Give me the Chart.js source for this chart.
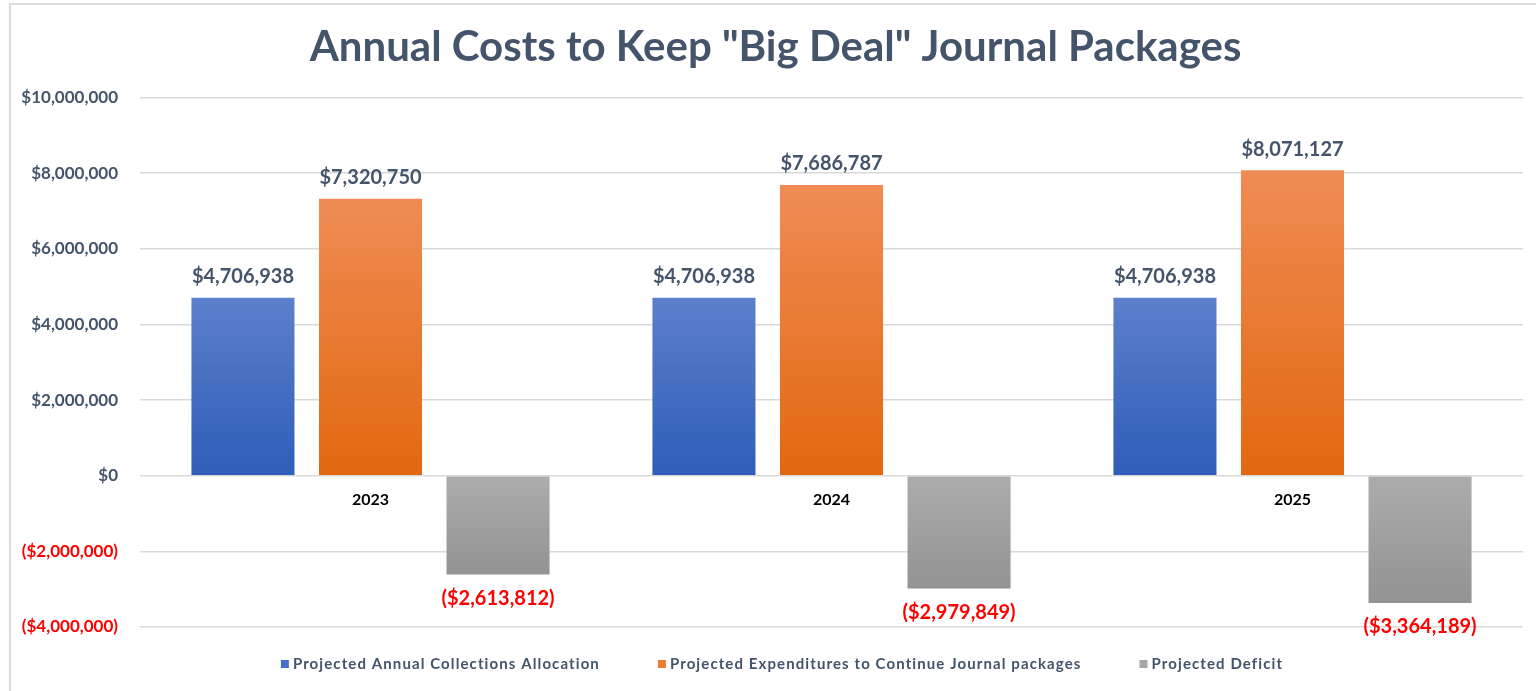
<!DOCTYPE html>
<html>
<head>
<meta charset="utf-8">
<script src="https://cdn.jsdelivr.net/npm/chart.js@4.4.1/dist/chart.umd.min.js"></script>
<style>
  html, body { margin: 0; padding: 0; background: #fff; overflow: hidden; }
  #wrap { position: relative; width: 1536px; height: 691px; }
  #frame { position: absolute; left: 9px; top: 3px; width: 1560px; height: 720px;
           border-left: 2px solid #dcdcdc; border-top: 2px solid #dcdcdc; pointer-events: none; }
  canvas { position: absolute; left: 0; top: 0; }
</style>
</head>
<body>
<div id="wrap">
  <canvas id="chart" width="1536" height="691"></canvas>
  <div id="frame"></div>
</div>
<script>
// data
const years = ["2023", "2024", "2025"];
const allocation = [4706938, 4706938, 4706938];
const expenditures = [7320750, 7686787, 8071127];
const deficit = [-2613812, -2979849, -3364189];
const seriesNames = [
  "Projected Annual Collections Allocation",
  "Projected Expenditures to Continue Journal packages",
  "Projected Deficit"
];
const yTicks = [-4000000, -2000000, 0, 2000000, 4000000, 6000000, 8000000, 10000000];

const SLATE = "#44546A";
const RED = "#FF0000";
const FONT = "Lato";

// top / bottom colours of each bar gradient
const shades = [
  ["#5C80CB", "#2F5DB9"],
  ["#EF8C55", "#E2680F"],
  ["#ACACAC", "#939393"]
];
const legendColors = ["#4472C4", "#ED7D31", "#A5A5A5"];

function money(v) {
  const s = "$" + Math.abs(v).toLocaleString("en-US");
  return v < 0 ? "(" + s + ")" : s;
}

function barFill(i) {
  return (ctx) => {
    const chart = ctx.chart;
    if (!chart.chartArea || ctx.type !== "data") return legendColors[i];
    const y = chart.scales.y;
    const v = ctx.raw;
    const top = y.getPixelForValue(Math.max(v, 0));
    const bot = y.getPixelForValue(Math.min(v, 0));
    if (bot - top < 1) return shades[i][0];
    const g = chart.ctx.createLinearGradient(0, top, 0, bot);
    g.addColorStop(0, shades[i][0]);
    g.addColorStop(1, shades[i][1]);
    return g;
  };
}

// title sits centred on the framed box, not the whole canvas
const nudgeTitle = {
  id: "nudgeTitle",
  afterLayout(chart) {
    if (chart.titleBlock) chart.titleBlock.left += 28;
  }
};

// value labels over / under each bar
const valueLabels = {
  id: "valueLabels",
  afterDatasetsDraw(chart) {
    const c = chart.ctx;
    c.save();
    c.font = "bold 20px " + FONT;
    c.textAlign = "center";
    c.textBaseline = "middle";
    chart.data.datasets.forEach((ds, i) => {
      chart.getDatasetMeta(i).data.forEach((bar, j) => {
        const v = ds.data[j];
        if (v < 0) {
          c.fillStyle = RED;
          c.fillText(money(v), bar.x, bar.y + 24);
        } else {
          c.fillStyle = SLATE;
          c.fillText(money(v), bar.x, bar.y - 21);
        }
      });
    });
    c.restore();
  }
};

// legend row along the bottom, like the Excel one
const bottomLegend = {
  id: "bottomLegend",
  afterDraw(chart) {
    const c = chart.ctx;
    c.save();
    c.font = "bold 15px " + FONT;
    c.letterSpacing = "1.1px";
    c.textBaseline = "middle";
    const box = 8, gap = 4, spacing = 58;
    const widths = seriesNames.map(t => box + gap + c.measureText(t).width);
    const total = widths.reduce((a, b) => a + b, 0) + spacing * (widths.length - 1);
    let x = 782 - total / 2;
    const y = 664;
    seriesNames.forEach((t, i) => {
      c.fillStyle = legendColors[i];
      c.fillRect(x, y - box / 2, box, box);
      c.fillStyle = SLATE;
      c.fillText(t, x + box + gap, y);
      x += widths[i] + spacing;
    });
    c.restore();
  }
};

const datasets = [allocation, expenditures, deficit].map((d, i) => ({
  label: seriesNames[i],
  data: d,
  backgroundColor: barFill(i),
  categoryPercentage: 0.83,
  barPercentage: 0.808
}));

new Chart(document.getElementById("chart"), {
  type: "bar",
  data: { labels: years, datasets },
  plugins: [nudgeTitle, valueLabels, bottomLegend],
  options: {
    responsive: false,
    animation: false,
    layout: { padding: { left: 0, right: 13, top: 3, bottom: 64 } },
    plugins: {
      legend: { display: false },
      tooltip: { enabled: false },
      title: {
        display: true,
        text: 'Annual Costs to Keep "Big Deal" Journal Packages',
        color: SLATE,
        font: { family: FONT, size: 42, weight: "bold" },
        padding: { top: 19, bottom: 25 }
      }
    },
    scales: {
      x: {
        position: { y: 0 },
        grid: { display: false, drawTicks: false },
        border: { display: false },
        ticks: { color: "#000", padding: 15, font: { family: FONT, size: 16, weight: "bold" } }
      },
      y: {
        min: -4000000,
        max: 10000000,
        afterBuildTicks: s => { s.ticks = yTicks.map(v => ({ value: v })); },
        afterFit: s => { s.width = 140; },
        grid: { color: "#D9D9D9", lineWidth: 1.5, drawTicks: false },
        border: { display: false },
        ticks: {
          padding: 22,
          font: { family: FONT, size: 17, weight: "bold" },
          color: c => (c.tick && c.tick.value < 0 ? RED : SLATE),
          callback: v => money(v)
        }
      }
    }
  }
});
</script>
</body>
</html>
